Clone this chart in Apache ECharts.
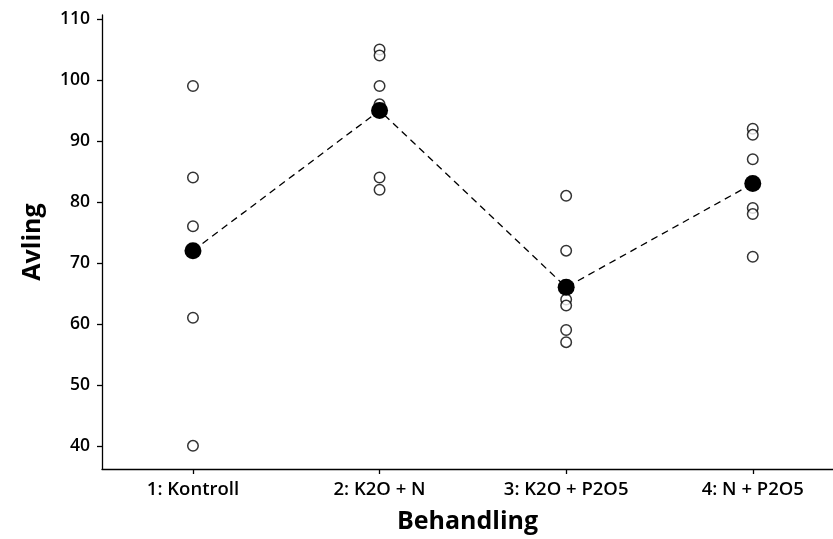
<!DOCTYPE html>
<html>
<head>
<meta charset="utf-8">
<script src="https://cdn.jsdelivr.net/npm/echarts@6/dist/echarts.min.js"></script>
<style>html,body{margin:0;padding:0;background:#fff}#c{width:833px;height:539px}</style>
</head>
<body>
<div id="c"></div>
<script>
const categories = ['1: Kontroll', '2: K2O + N', '3: K2O + P2O5', '4: N + P2O5'];
const obsKontroll = [99, 84, 76, 72, 61, 40];
const obsK2ON = [105, 104, 99, 96, 84, 82];
const obsK2OP2O5 = [81, 72, 64, 63, 59, 57];
const obsNP2O5 = [92, 91, 87, 79, 78, 71];
const means = [72, 95, 66, 83];
const yTicks = [40, 50, 60, 70, 80, 90, 100, 110];

const groups = [obsKontroll, obsK2ON, obsK2OP2O5, obsNP2O5];
const scatterData = [];
groups.forEach((g, i) => g.forEach(v => scatterData.push([i + 1, v])));
const meanData = means.map((m, i) => [i + 1, m]);

const font = '"Open Sans", "Noto Sans", sans-serif';
const chart = echarts.init(document.getElementById('c'), null, {renderer: 'canvas'});
chart.setOption({
  animation: false,
  backgroundColor: '#fff',
  grid: {left: 102, right: 0, top: 15, bottom: 68, containLabel: false},
  xAxis: {
    type: 'value', min: 0.5125, max: 4.43,
    name: 'Behandling', nameLocation: 'middle', nameGap: 40,
    nameTextStyle: {fontFamily: font, fontSize: 25, fontWeight: 'bold', color: '#000'},
    axisLine: {show: true, lineStyle: {color: '#000', width: 1.3}},
    axisTick: {show: true, customValues: [1, 2, 3, 4], length: 5, lineStyle: {color: '#000', width: 1.3}},
    axisLabel: {show: true, customValues: [1, 2, 3, 4], margin: 11,
      formatter: v => categories[Math.round(v) - 1] || '',
      fontFamily: font, fontSize: 18.5, fontWeight: 600, color: '#000'},
    splitLine: {show: false}
  },
  yAxis: {
    type: 'value', min: 36.2, max: 110.65,
    name: 'Avling', nameLocation: 'middle', nameGap: 57, nameRotate: 90,
    nameTextStyle: {fontFamily: font, fontSize: 25, fontWeight: 'bold', color: '#000'},
    axisLine: {show: true, lineStyle: {color: '#000', width: 1.3}},
    axisTick: {show: true, customValues: yTicks, length: 5, lineStyle: {color: '#000', width: 1.3}},
    axisLabel: {show: true, customValues: yTicks, margin: 12,
      fontFamily: font, fontSize: 17.5, fontWeight: 600, color: '#000'},
    splitLine: {show: false}
  },
  series: [
    {
      type: 'scatter', data: scatterData, symbol: 'circle', symbolSize: 10.5,
      itemStyle: {color: '#fff', borderColor: '#000', borderWidth: 1.5}, z: 2
    },
    {
      type: 'line', data: meanData, symbol: 'circle', symbolSize: 17,
      itemStyle: {color: '#000'},
      lineStyle: {color: '#000', width: 1.3, type: [7, 5]}, z: 3
    }
  ]
});
</script>
</body>
</html>
